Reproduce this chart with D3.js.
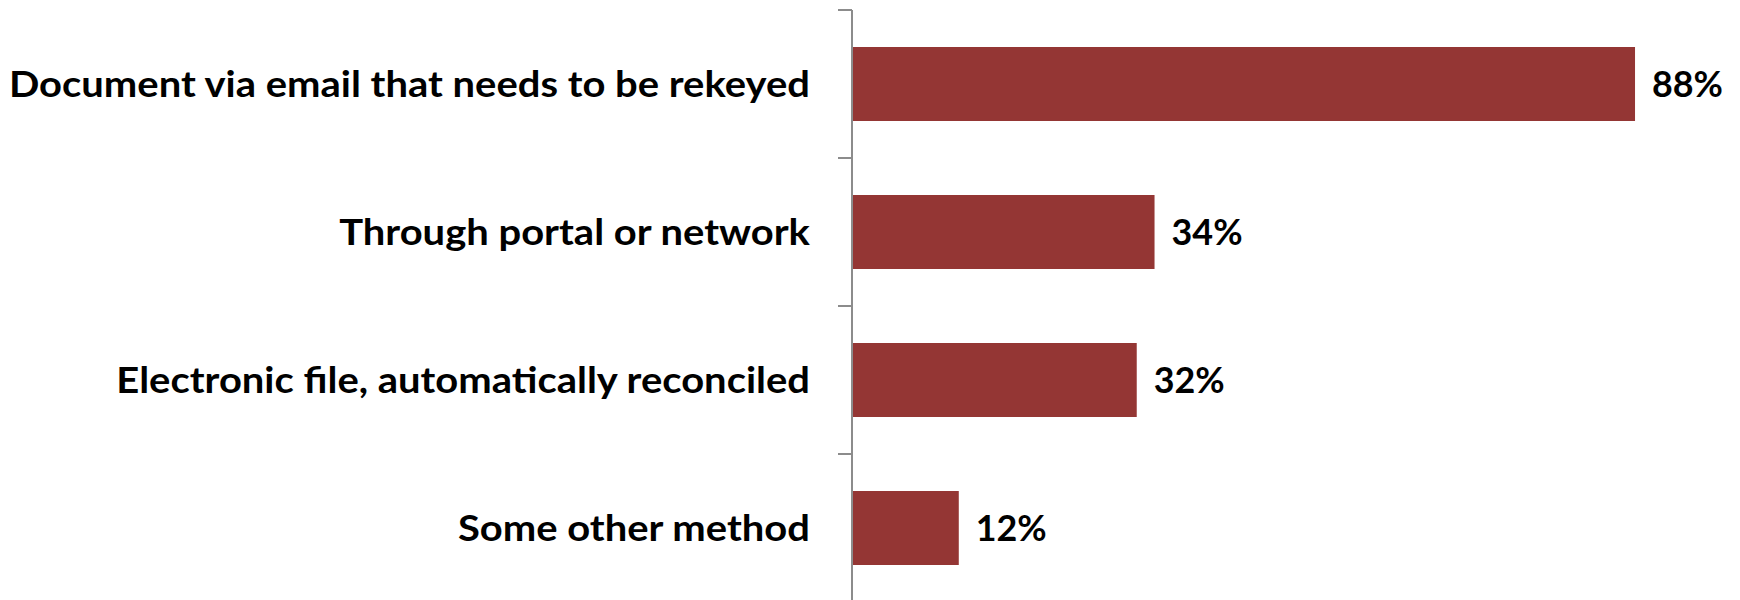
<!DOCTYPE html>
<html>
<head>
<meta charset="utf-8">
<script src="https://cdn.jsdelivr.net/npm/d3@7/dist/d3.min.js"></script>
<style>
  html, body { margin: 0; padding: 0; background: #fff; }
  svg { display: block; }
  text { font-family: Lato, "Open Sans", sans-serif; font-weight: 700; fill: #000; }
</style>
</head>
<body>
<svg id="chart" width="1740" height="600"></svg>
<script>
const categories = [
  "Document via email that needs to be rekeyed",
  "Through portal or network",
  "Electronic file, automatically reconciled",
  "Some other method"
];
const values = [88, 34, 32, 12];
const valueLabels = ["88%", "34%", "32%", "12%"];

const W = 1740, H = 600;
const axisX = 852;
const fontSize = 36;
const svg = d3.select("#chart");

const x = d3.scaleLinear().domain([0, 100]).range([axisX, axisX + 889.8]);
const y = d3.scaleBand().domain(categories).range([10, 602]).paddingInner(0.5).paddingOuter(0.25);
const step = y.step();

// Bars
svg.selectAll("rect.bar").data(values).join("rect")
  .attr("class", "bar")
  .attr("x", x(0))
  .attr("y", (d, i) => y(categories[i]))
  .attr("width", d => x(d) - x(0))
  .attr("height", y.bandwidth())
  .attr("fill", "#943634");

// Axis line and ticks
const g = svg.append("g");
g.append("line")
  .attr("x1", axisX).attr("x2", axisX)
  .attr("y1", 10).attr("y2", H)
  .attr("stroke", "#8c8c8c").attr("stroke-width", 2);
const tickYs = d3.range(categories.length + 1).map(i => y.range()[0] + i * step);
g.selectAll("line.tick").data(tickYs).join("line")
  .attr("class", "tick")
  .attr("x1", axisX - 14).attr("x2", axisX)
  .attr("y1", d => d).attr("y2", d => d)
  .attr("stroke", "#8c8c8c").attr("stroke-width", 2);

// Horizontal condensing factor so the substitute font matches the reference widths
function measure(str) {
  const t = svg.append("text").attr("font-size", fontSize).text(str);
  const w = t.node().getComputedTextLength();
  t.remove();
  return w;
}
const catScale = 352 / measure(categories[3]);
const valScale = 71 / measure(valueLabels[0]);

// Category labels
svg.selectAll("text.cat").data(categories).join("text")
  .attr("class", "cat")
  .attr("x", 810)
  .attr("y", d => y(d) + y.bandwidth() / 2)
  .attr("dy", "0.36em")
  .attr("text-anchor", "end")
  .attr("font-size", fontSize)
  .attr("lengthAdjust", "spacingAndGlyphs")
  .attr("textLength", d => measure(d) * catScale)
  .text(d => d);

// Value labels
svg.selectAll("text.val").data(values).join("text")
  .attr("class", "val")
  .attr("x", d => x(d) + 17)
  .attr("y", (d, i) => y(categories[i]) + y.bandwidth() / 2)
  .attr("dy", "0.36em")
  .attr("font-size", fontSize)
  .attr("lengthAdjust", "spacingAndGlyphs")
  .attr("textLength", (d, i) => measure(valueLabels[i]) * valScale)
  .text((d, i) => valueLabels[i]);
</script>
</body>
</html>
